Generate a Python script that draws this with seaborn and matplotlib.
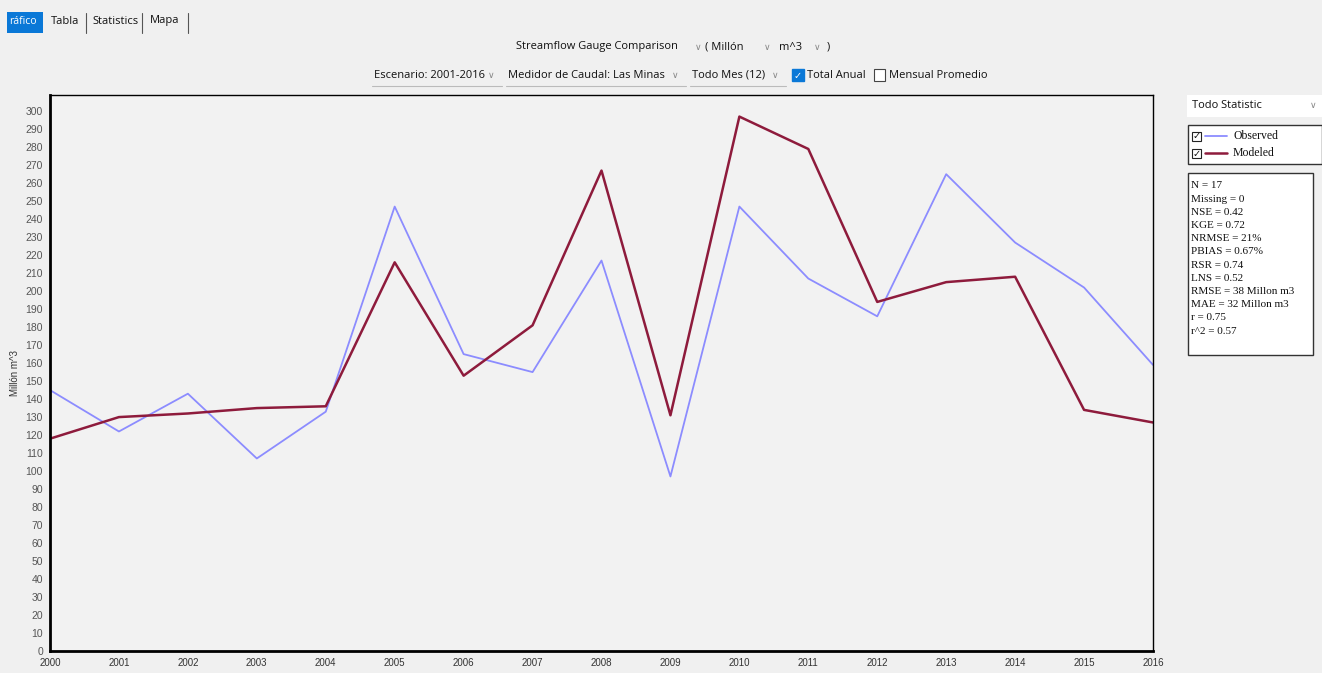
import numpy as np
import pandas as pd
import matplotlib
matplotlib.use("Agg")
import matplotlib.pyplot as plt
from matplotlib.patches import Rectangle
from matplotlib.lines import Line2D
import seaborn as sns

# datos
years = list(range(2000, 2017))
observed = [145, 122, 143, 107, 133, 247, 165, 155, 217, 97, 247, 207, 186, 265, 227, 202, 159]
modeled = [118, 130, 132, 135, 136, 216, 153, 181, 267, 131, 297, 279, 194, 205, 208, 134, 127]
series_names = ["Observed", "Modeled"]
series_colors = ["#8c8cff", "#8e1b3c"]
y_ticks = list(range(0, 301, 10))
stats_lines = ["N = 17", "Missing = 0", "NSE = 0.42", "KGE = 0.72", "NRMSE = 21%",
               "PBIAS = 0.67%", "RSR = 0.74", "LNS = 0.52", "RMSE = 38 Millon m3",
               "MAE = 32 Millon m3", "r = 0.75", "r^2 = 0.57"]

W, H = 1322, 673
BG = "#f0f0f0"
UI_FONT = ["Open Sans", "DejaVu Sans"]
CHEV = "#888888"


def fx(px):
    return px / W


def fy(py):
    return 1 - py / H


def ui_text(x, y, s, **kw):
    kw.setdefault("fontsize", 8)
    kw.setdefault("color", "#111111")
    kw.setdefault("family", UI_FONT)
    return fig.text(fx(x), fy(y), s, va="center", **kw)


df = pd.DataFrame({
    "year": years * 2,
    "value": observed + modeled,
    "series": ["Observed"] * len(years) + ["Modeled"] * len(years),
})

sns.set_theme(style="white")
plt.rcParams["font.family"] = ["Liberation Sans", "DejaVu Sans"]

fig = plt.figure(figsize=(W / 100, H / 100), dpi=100, facecolor=BG)
ax = fig.add_axes([fx(50), fy(651), fx(1153) - fx(50), fy(95) - fy(651)])
ax.set_facecolor("#f2f2f2")

sns.lineplot(data=df, x="year", y="value", hue="series", hue_order=series_names,
             palette=dict(zip(series_names, series_colors)), ax=ax, legend=False)
ax.lines[0].set_linewidth(1.3)
ax.lines[1].set_linewidth(1.8)

ax.set_xlim(2000, 2016)
ax.set_ylim(0, 309)
ax.set_xticks(years)
ax.set_xticklabels([str(y) for y in years], fontsize=7, color="#333333")
ax.set_yticks(y_ticks)
ax.set_yticklabels([str(v) for v in y_ticks], fontsize=7.5, color="#555555")
ax.tick_params(axis="both", length=3, width=0.6, color="#777777", pad=2)
ax.set_xlabel("")
ax.set_ylabel("Millón m^3", fontsize=7, color="#333333", labelpad=4)
for side, sp in ax.spines.items():
    sp.set_color("black")
    sp.set_linewidth(2.0 if side in ("left", "bottom") else 1.0)

# pestañas
fig.patches.append(Rectangle((fx(7), fy(33)), fx(36), fy(12) - fy(33), transform=fig.transFigure,
                             facecolor="#0a78d7", edgecolor="none"))
ui_text(9, 22, "ráfico", color="white", fontsize=7.5)
for name, x0, sep in [("Tabla", 51, 86), ("Statistics", 92, 142), ("Mapa", 150, 188)]:
    ui_text(x0, 21, name, fontsize=8)
    fig.add_artist(Line2D([fx(sep)] * 2, [fy(13), fy(33)], color="#555555", lw=0.8,
                          transform=fig.transFigure))

# fila superior de controles
ui_text(516, 47, "Streamflow Gauge Comparison")
ui_text(695, 47, "∨", color=CHEV, fontsize=6.5)
ui_text(705, 47, "( Millón")
ui_text(764, 47, "∨", color=CHEV, fontsize=6.5)
ui_text(779, 47, "m^3")
ui_text(814, 47, "∨", color=CHEV, fontsize=6.5)
ui_text(827, 47, ")")

row2 = [("Escenario: 2001-2016", 372, 130), ("Medidor de Caudal: Las Minas", 506, 180),
        ("Todo Mes (12)", 690, 96)]
for label, x0, w in row2:
    ui_text(x0 + 2, 75, label)
    ui_text(x0 + w - 14, 75, "∨", color=CHEV, fontsize=6.5)
    fig.add_artist(Line2D([fx(x0), fx(x0 + w)], [fy(86), fy(86)], color="#bbbbbb", lw=0.8,
                          transform=fig.transFigure))
fig.patches.append(Rectangle((fx(792), fy(81)), fx(12), fy(69) - fy(81), transform=fig.transFigure,
                             facecolor="#0a78d7", edgecolor="#0a78d7"))
ui_text(794, 75.5, "✓", color="white", fontsize=7, family="DejaVu Sans")
ui_text(807, 75, "Total Anual")
fig.patches.append(Rectangle((fx(874), fy(81)), fx(11), fy(69) - fy(81), transform=fig.transFigure,
                             facecolor="white", edgecolor="#444444", lw=0.8))
ui_text(889, 75, "Mensual Promedio")

# panel derecho
fig.patches.append(Rectangle((fx(1187), fy(117)), fx(135), fy(95) - fy(117), transform=fig.transFigure,
                             facecolor="white", edgecolor="none"))
ui_text(1192, 106, "Todo Statistic")
ui_text(1310, 106, "∨", color=CHEV, fontsize=6.5)

fig.patches.append(Rectangle((fx(1188), fy(164)), fx(134), fy(125) - fy(164), transform=fig.transFigure,
                             facecolor="white", edgecolor="#333333", lw=1.0))
for i, (name, col) in enumerate(zip(series_names, series_colors)):
    yc = 136 + i * 17
    fig.patches.append(Rectangle((fx(1192), fy(yc + 5)), fx(9), fy(yc - 4) - fy(yc + 5),
                                 transform=fig.transFigure, facecolor="white", edgecolor="#222222", lw=0.8))
    ui_text(1192.5, yc + 0.5, "✓", fontsize=7, family="DejaVu Sans")
    fig.add_artist(Line2D([fx(1205), fx(1227)], [fy(yc), fy(yc)], color=col,
                          lw=1.3 if i == 0 else 1.8, transform=fig.transFigure))
    ui_text(1233, yc, name, fontsize=8.5, family="Liberation Serif")

fig.patches.append(Rectangle((fx(1188), fy(355)), fx(125), fy(173) - fy(355), transform=fig.transFigure,
                             facecolor="white", edgecolor="#333333", lw=1.0))
for i, line in enumerate(stats_lines):
    ui_text(1191, 186 + i * 13.2, line, fontsize=8, family="Liberation Serif")

fig.savefig("out.png", dpi=100, facecolor=BG)
